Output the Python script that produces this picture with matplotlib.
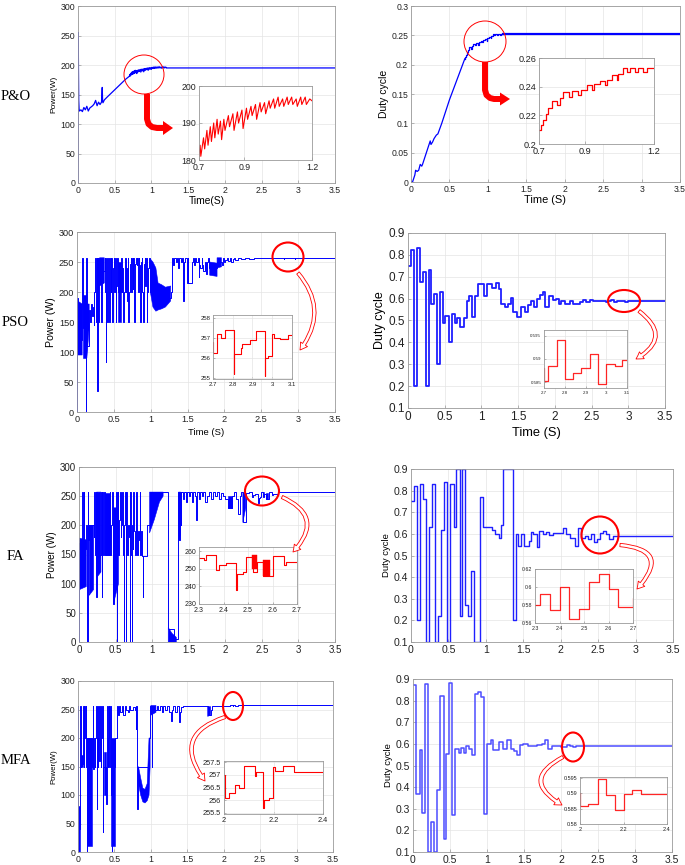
import numpy as np
import matplotlib
matplotlib.use("Agg")
import matplotlib.pyplot as plt
from matplotlib.patches import Ellipse, FancyArrowPatch, Polygon
from matplotlib.ticker import FormatStrFormatter

nan = float('nan')

# ---------------- P&O ----------------
po_pw = [(0.0, 0), (0.003, 255), (0.006, 200), (0.010, 140), (0.015, 125), (0.020, 122),
         (0.040, 124), (0.060, 121), (0.080, 128), (0.100, 124), (0.120, 130), (0.140, 122),
         (0.160, 127), (0.180, 129), (0.200, 131), (0.220, 134), (0.240, 140), (0.260, 131),
         (0.280, 137), (0.300, 133), (0.320, 137), (0.330, 162), (0.335, 140), (0.340, 136),
         (0.360, 141), (0.400, 146), (0.450, 152), (0.500, 158), (0.550, 164), (0.600, 170),
         (0.650, 176), (0.690, 180)]
po_zoom = [(0.700, 181), (0.705, 184), (0.708, 181), (0.720, 186), (0.725, 183), (0.735, 188),
           (0.740, 184), (0.750, 189), (0.755, 185), (0.765, 190), (0.770, 186), (0.780, 191),
           (0.785, 187), (0.795, 190.5), (0.800, 185.5), (0.810, 191), (0.815, 188), (0.830, 192),
           (0.835, 189), (0.850, 192.5), (0.855, 188), (0.870, 193), (0.875, 190), (0.890, 193.5),
           (0.895, 188.5), (0.910, 194), (0.915, 191), (0.930, 194.5), (0.935, 192), (0.950, 195),
           (0.955, 191), (0.970, 195.5), (0.975, 193), (0.990, 195.5), (0.995, 192.5), (1.010, 196),
           (1.015, 194), (1.030, 196.5), (1.035, 194), (1.050, 197), (1.055, 194.5), (1.070, 196.5),
           (1.075, 194.5), (1.090, 197), (1.095, 195), (1.110, 197), (1.115, 195), (1.130, 196.5),
           (1.135, 194.5), (1.150, 197), (1.155, 195), (1.170, 197), (1.175, 195), (1.190, 196.5),
           (1.200, 196)]
po_tail = [(1.200, 195), (3.500, 195)]

pod_ramp = [(0.0, 0.0), (0.02, 0.0), (0.05, 0.012), (0.06, 0.02), (0.08, 0.018), (0.10, 0.02),
            (0.12, 0.03), (0.14, 0.027), (0.15, 0.03), (0.20, 0.05), (0.25, 0.07), (0.26, 0.064),
            (0.28, 0.068), (0.30, 0.074), (0.33, 0.08), (0.35, 0.082), (0.40, 0.10), (0.50, 0.14),
            (0.60, 0.175), (0.70, 0.21)]
pod_zoom = [(0.700, 0.210), (0.709, 0.213), (0.719, 0.217), (0.729, 0.221), (0.741, 0.225),
            (0.755, 0.230), (0.777, 0.227), (0.791, 0.232), (0.803, 0.236), (0.832, 0.233),
            (0.842, 0.237), (0.871, 0.234), (0.883, 0.238), (0.907, 0.241), (0.929, 0.238),
            (0.939, 0.242), (0.965, 0.244), (0.987, 0.241), (0.994, 0.245), (1.016, 0.248),
            (1.038, 0.245), (1.045, 0.249), (1.064, 0.253), (1.084, 0.250), (1.096, 0.253),
            (1.117, 0.250), (1.132, 0.253), (1.154, 0.250), (1.168, 0.253), (1.200, 0.253)]
pod_tail = [(1.200, 0.2515), (3.500, 0.2515)]

# ---------------- PSO ----------------
pso_pw = [(0.000, 0), (0.004, 190), (0.010, 120), (0.072, 257), (0.078, 200), (0.086, 140),
          (0.122, 0), (0.128, 257), (0.134, 110), (0.168, 170), (0.178, 150), (0.188, 180),
          (0.198, 160), (0.212, 175), (0.226, 145), (0.236, 200), (0.244, 257), (0.252, 200),
          (0.262, 150), (0.270, 257), (0.276, 35), (0.282, 257), (0.290, 150), (0.298, 257),
          (0.306, 230), (0.330, 150), (0.336, 235), (0.375, 257), (0.382, 200), (0.390, 83),
          (0.396, 257), (0.404, 150), (0.414, 200), (0.424, 257), (0.432, 230), (0.440, 150),
          (0.450, 257), (0.458, 200), (0.468, 257), (0.476, 150), (0.486, 240), (0.496, 257),
          (0.506, 200), (0.516, 257), (0.524, 150), (0.532, 210), (0.545, 257), (0.555, 200),
          (0.600, 257), (0.606, 200), (0.616, 240), (0.628, 150), (0.636, 200), (0.650, 257),
          (0.658, 200), (0.666, 240), (0.676, 185), (0.686, 257), (0.696, 150), (0.704, 200),
          (0.716, 247), (0.728, 257), (0.736, 200), (0.748, 257), (0.756, 205), (0.766, 257),
          (0.776, 150), (0.786, 247), (0.800, 257), (0.808, 245), (0.820, 257), (0.828, 200),
          (0.838, 257), (0.846, 245), (0.860, 150), (0.868, 250), (0.880, 257), (0.888, 200),
          (0.898, 150), (0.906, 247), (0.918, 257), (0.926, 210), (0.936, 257), (0.946, 150),
          (0.956, 200), (0.968, 240), (0.980, 257), (0.992, 200), (1.100, 190), (1.270, 200),
          (1.290, 257), (1.300, 245), (1.320, 257), (1.340, 250), (1.360, 257), (1.375, 240),
          (1.390, 257), (1.405, 250), (1.420, 257), (1.440, 185), (1.450, 250), (1.470, 257),
          (1.490, 215), (1.500, 257), (1.505, 215), (1.560, 250), (1.575, 257), (1.590, 245),
          (1.605, 257), (1.620, 250), (1.635, 257), (1.650, 225), (1.660, 245), (1.675, 240),
          (1.690, 257), (1.700, 245), (1.715, 235), (1.730, 250), (1.745, 230), (1.760, 250),
          (1.775, 257), (1.790, 240), (1.900, 250), (1.965, 245), (1.980, 257), (1.995, 250),
          (2.010, 254), (2.030, 257), (2.050, 252), (2.070, 257), (2.090, 250), (2.110, 255),
          (2.130, 257), (2.150, 254), (2.190, 256), (2.230, 255), (2.280, 256.5), (2.340, 255.5),
          (2.400, 256.5), (2.460, 256), (2.520, 257), (2.580, 256.5), (2.640, 256.8), (2.700, 256.25),
          (2.720, 257.2), (2.740, 257.0), (2.762, 257.4), (2.806, 255.2), (2.808, 256.2),
          (2.843, 256.5), (2.846, 256.7), (2.886, 256.9), (2.920, 257.35), (2.962, 255.1),
          (2.964, 256.0), (2.980, 256.1), (3.000, 257.2), (3.010, 257.0), (3.040, 256.95),
          (3.080, 257.15), (3.500, 257.15)]
pso_band = [(0.010, 95, 185), (0.070, 95, 180), (nan, nan, nan),
            (0.086, 90, 195), (0.120, 90, 195), (nan, nan, nan),
            (0.134, 90, 180), (0.165, 140, 180), (nan, nan, nan),
            (0.306, 210, 257), (0.370, 215, 257), (nan, nan, nan),
            (0.558, 150, 250), (0.600, 150, 250), (nan, nan, nan),
            (0.995, 200, 255), (1.030, 175, 250), (1.070, 168, 240), (1.100, 170, 215),
            (1.150, 172, 212), (1.200, 175, 208), (1.270, 185, 210), (nan, nan, nan),
            (1.800, 228, 250), (1.900, 226, 248), (nan, nan, nan),
            (1.900, 240, 257), (1.960, 242, 257)]

psod = [(0.000, 0.75), (0.036, 0.82), (0.077, 0.2), (0.120, 0.83), (0.170, 0.675), (0.200, 0.72),
        (0.240, 0.2), (0.280, 0.73), (0.310, 0.575), (0.355, 0.62), (0.395, 0.3), (0.430, 0.63),
        (0.480, 0.49), (0.510, 0.52), (0.555, 0.4), (0.600, 0.53), (0.640, 0.49), (0.670, 0.51),
        (0.710, 0.47), (0.760, 0.51), (0.800, 0.59), (0.835, 0.61), (0.870, 0.515), (0.910, 0.61),
        (0.955, 0.665), (1.040, 0.61), (1.080, 0.665), (1.140, 0.65), (1.200, 0.67), (1.240, 0.645),
        (1.270, 0.575), (1.320, 0.56), (1.360, 0.575), (1.400, 0.605), (1.430, 0.54), (1.480, 0.515),
        (1.545, 0.56), (1.590, 0.54), (1.640, 0.57), (1.680, 0.59), (1.710, 0.56), (1.760, 0.6),
        (1.800, 0.615), (1.840, 0.63), (1.870, 0.56), (1.920, 0.61), (1.980, 0.595), (2.010, 0.6),
        (2.050, 0.575), (2.090, 0.59), (2.140, 0.575), (2.200, 0.59), (2.250, 0.575), (2.340, 0.585),
        (2.390, 0.595), (2.430, 0.585), (2.480, 0.595), (2.520, 0.59), (2.600, 0.588),
        (2.700, 0.5854), (2.720, 0.5884), (2.764, 0.594), (2.800, 0.5857), (2.840, 0.587),
        (2.876, 0.5881), (2.920, 0.591), (2.958, 0.5846), (2.998, 0.589), (3.040, 0.5884),
        (3.078, 0.5897), (3.500, 0.5897)]

# ---------------- FA ----------------
fa_pw = [(0.000, 0), (0.006, 170), (0.045, 257), (0.050, 150), (0.070, 257), (0.075, 160),
         (0.100, 200), (0.110, 0), (0.118, 257), (0.124, 175), (0.135, 200), (0.200, 180),
         (0.210, 257), (0.218, 150), (0.228, 257), (0.236, 78), (0.242, 257), (0.250, 150),
         (0.300, 257), (0.310, 78), (0.316, 257), (0.324, 150), (0.336, 200), (0.346, 257),
         (0.356, 150), (0.420, 257), (0.430, 150), (0.440, 200), (0.450, 257), (0.460, 65),
         (0.475, 150), (0.490, 230), (0.500, 150), (0.510, 257), (0.515, 0), (0.520, 180),
         (0.530, 257), (0.540, 150), (0.550, 210), (0.560, 257), (0.568, 180), (0.578, 200),
         (0.590, 257), (0.600, 150), (0.612, 20), (0.617, 0), (0.622, 200), (0.630, 257),
         (0.638, 200), (0.643, 0), (0.648, 257), (0.660, 150), (0.675, 200), (0.685, 180),
         (0.692, 257), (0.697, 0), (0.702, 257), (0.710, 150), (0.718, 0), (0.723, 200),
         (0.735, 160), (0.745, 257), (0.755, 190), (0.765, 150), (0.775, 200), (0.785, 257),
         (0.795, 150), (0.805, 190), (0.815, 175), (0.830, 257), (0.840, 150), (0.850, 190),
         (0.860, 148), (0.875, 77), (0.880, 148), (0.935, 200), (0.965, 257), (1.215, 22),
         (1.300, 5), (1.360, 257), (1.370, 175), (1.380, 257), (1.390, 200), (1.400, 257),
         (1.420, 245), (1.440, 257), (1.460, 240), (1.480, 257), (1.500, 250), (1.520, 257),
         (1.540, 240), (1.560, 257), (1.580, 250), (1.600, 210), (1.620, 257), (1.640, 245),
         (1.660, 257), (1.680, 250), (1.700, 257), (1.720, 240), (1.750, 250), (1.780, 257),
         (1.800, 245), (1.830, 257), (1.860, 250), (1.880, 257), (1.910, 245), (1.940, 255),
         (1.970, 250), (2.000, 245), (2.040, 230), (2.090, 250), (2.120, 257), (2.150, 245),
         (2.180, 220), (2.200, 250), (2.220, 257), (2.240, 205), (2.280, 256), (2.320, 255),
         (2.330, 257.5), (2.370, 249), (2.380, 252), (2.410, 253.5), (2.450, 238),
         (2.455, 247), (2.480, 248), (2.490, 256.5), (2.520, 248), (2.535, 254),
         (2.560, 246), (2.600, 257), (2.645, 252), (2.655, 254), (2.700, 254),
         (2.720, 257), (3.500, 257)]
fa_band = [(0.010, 90, 178), (0.100, 95, 175), (nan, nan, nan),
           (0.140, 80, 200), (0.200, 90, 200), (nan, nan, nan),
           (0.240, 110, 257), (0.300, 120, 257), (nan, nan, nan),
           (0.360, 150, 255), (0.420, 150, 255), (nan, nan, nan),
           (0.470, 65, 230), (0.540, 100, 230), (nan, nan, nan),
           (0.965, 187, 257), (1.030, 210, 257), (1.100, 240, 257), (1.150, 250, 257), (nan, nan, nan),
           (1.220, 0, 25), (1.270, 0, 15), (1.330, 0, 8), (nan, nan, nan),
           (1.360, 175, 257), (1.390, 185, 257), (nan, nan, nan),
           (2.040, 230, 250), (2.090, 230, 250), (nan, nan, nan),
           (2.240, 205, 255), (2.280, 230, 255), (nan, nan, nan),
           (2.515, 250, 258), (2.535, 250, 258), (nan, nan, nan),
           (2.560, 246, 255), (2.590, 246, 255)]

fad = [(0.000, 0.75), (0.036, 0.82), (0.080, 0.2), (0.124, 0.83), (0.160, 0.76), (0.200, 0.1),
       (0.235, 0.63), (0.280, 0.83), (0.324, 0.1), (0.356, 0.22), (0.400, 0.62), (0.444, 0.84),
       (0.480, 0.1), (0.524, 0.83), (0.570, 0.63), (0.600, 0.9), (0.650, 0.22), (0.680, 0.9),
       (0.716, 0.27), (0.760, 0.22), (0.800, 0.43), (0.836, 0.1), (0.916, 0.77), (0.960, 0.63),
       (1.080, 0.62), (1.120, 0.6), (1.170, 0.58), (1.200, 0.64), (1.235, 0.9), (1.360, 0.2),
       (1.400, 0.6), (1.435, 0.545), (1.470, 0.6), (1.510, 0.545), (1.570, 0.565), (1.600, 0.61),
       (1.636, 0.6), (1.680, 0.54), (1.715, 0.615), (1.770, 0.6), (1.810, 0.61), (1.850, 0.595),
       (1.900, 0.605), (2.035, 0.625), (2.070, 0.6), (2.120, 0.58), (2.190, 0.545), (2.235, 0.625),
       (2.270, 0.58), (2.320, 0.592), (2.360, 0.575), (2.400, 0.6), (2.440, 0.564), (2.480, 0.576),
       (2.520, 0.606), (2.560, 0.615), (2.600, 0.598), (2.640, 0.578), (2.700, 0.588),
       (3.500, 0.588)]

# ---------------- MFA ----------------
mfa_pw = [(0.000, 0), (0.003, 257), (0.006, 40), (0.030, 257), (0.036, 150), (0.040, 257),
          (0.046, 155), (0.070, 257), (0.076, 150), (0.082, 257), (0.090, 200), (0.105, 257),
          (0.115, 150), (0.120, 0), (0.125, 200), (0.190, 150), (0.200, 257), (0.205, 145),
          (0.215, 200), (0.230, 150), (0.240, 200), (0.250, 257), (0.255, 75), (0.260, 200),
          (0.270, 150), (0.280, 257), (0.285, 175), (0.295, 160), (0.305, 257), (0.310, 150),
          (0.320, 200), (0.330, 257), (0.340, 35), (0.345, 150), (0.390, 85), (0.395, 257),
          (0.405, 150), (0.410, 200), (0.420, 257), (0.430, 150), (0.440, 257), (0.450, 100),
          (0.460, 0), (0.465, 150), (0.510, 200), (0.540, 257), (0.545, 240), (0.560, 257),
          (0.580, 245), (0.600, 257), (0.620, 240), (0.640, 257), (0.660, 250), (0.680, 245),
          (0.700, 257), (0.720, 250), (0.750, 255), (0.780, 250), (0.790, 215), (0.800, 257),
          (0.810, 150), (0.815, 75), (0.820, 150), (0.970, 200), (0.990, 257), (1.010, 150),
          (1.015, 250), (1.080, 257), (1.100, 250), (1.120, 257), (1.150, 245), (1.170, 257),
          (1.200, 250), (1.220, 257), (1.250, 245), (1.270, 230), (1.290, 250), (1.310, 257),
          (1.330, 245), (1.360, 257), (1.380, 228), (1.400, 245), (1.420, 255), (1.440, 257),
          (1.780, 240), (1.820, 250), (1.840, 257), (2.000, 257), (2.003, 256.1), (2.020, 256.3),
          (2.043, 256.6), (2.060, 256.5), (2.080, 257.35), (2.124, 256.95), (2.130, 257.1),
          (2.158, 255.7), (2.162, 256.0), (2.180, 256.1), (2.198, 257.3), (2.205, 257.15),
          (2.238, 257.35), (2.283, 257.1), (3.500, 257.1)]
mfa_band = [(0.005, 0, 80), (0.030, 0, 80), (nan, nan, nan),
            (0.045, 150, 170), (0.070, 150, 170), (nan, nan, nan),
            (0.130, 10, 200), (0.190, 10, 200), (nan, nan, nan),
            (0.350, 100, 175), (0.390, 100, 175), (nan, nan, nan),
            (0.455, 10, 200), (0.510, 10, 200), (nan, nan, nan),
            (0.830, 120, 150), (0.860, 100, 130), (0.890, 88, 112), (0.920, 86, 110),
            (0.950, 90, 120), (0.975, 100, 200), (0.990, 150, 200), (nan, nan, nan),
            (1.000, 240, 257), (1.070, 245, 257), (nan, nan, nan),
            (1.780, 238, 255), (1.820, 240, 255)]

mfd = [(0.000, 0.87), (0.045, 0.37), (0.090, 0.57), (0.126, 0.28), (0.167, 0.875), (0.200, 0.1),
       (0.240, 0.24), (0.280, 0.1), (0.325, 0.385), (0.370, 0.82), (0.415, 0.16), (0.450, 0.555),
       (0.490, 0.88), (0.530, 0.27), (0.574, 0.575), (0.620, 0.56), (0.646, 0.58), (0.686, 0.56),
       (0.720, 0.59), (0.760, 0.575), (0.800, 0.55), (0.835, 0.83), (0.880, 0.84), (0.925, 0.815),
       (0.960, 0.275), (1.000, 0.6), (1.050, 0.62), (1.085, 0.57), (1.165, 0.61), (1.210, 0.575),
       (1.270, 0.62), (1.320, 0.575), (1.365, 0.565), (1.410, 0.55), (1.445, 0.595), (1.490, 0.6),
       (1.560, 0.59), (1.670, 0.595), (1.740, 0.6), (1.785, 0.62), (1.830, 0.575), (1.874, 0.59),
       (2.000, 0.5857), (2.038, 0.5865), (2.081, 0.5947), (2.119, 0.5894), (2.160, 0.5846),
       (2.200, 0.5897), (2.240, 0.591), (2.280, 0.5897), (3.500, 0.5897)]

x_ticks = [0, 0.5, 1, 1.5, 2, 2.5, 3, 3.5]
pw_ticks = [0, 50, 100, 150, 200, 250, 300]
duty_ticks = [0.1, 0.2, 0.3, 0.4, 0.5, 0.6, 0.7, 0.8, 0.9]

# ---------------- drawing ----------------
BLUE = '#0000ff'
RED = '#ff0000'
W, H = 685, 865
plt.rcParams['font.family'] = ['Liberation Sans', 'DejaVu Sans']
fig = plt.figure(figsize=(W / 100, H / 100), dpi=100)


def box(x0, y0, x1, y1):
    return fig.add_axes([x0 / W, 1 - y1 / H, (x1 - x0) / W, (y1 - y0) / H])


def style(ax, fs, xt, yt, xl, yl):
    ax.set_xlim(*xl)
    ax.set_ylim(*yl)
    ax.set_xticks(xt)
    ax.set_yticks(yt)
    ax.xaxis.set_major_formatter(FormatStrFormatter('%g'))
    ax.yaxis.set_major_formatter(FormatStrFormatter('%g'))
    for s in ax.spines.values():
        s.set_color('#9a9a9a')
        s.set_linewidth(0.6)
    ax.tick_params(direction='in', length=2.5, width=0.5, color='#9a9a9a',
                   labelsize=fs, labelcolor='#222222', pad=2)
    ax.grid(True, color='#e4e4e4', lw=0.5)
    ax.set_axisbelow(True)


def split(rows):
    a = np.array(rows, dtype=float)
    return [a[:, i] for i in range(a.shape[1])]


# P&O power
ax = box(78, 6, 335, 183)
style(ax, 6.3, x_ticks, pw_ticks, (0, 3.5), (0, 300))
t, v = split(po_pw + po_zoom + po_tail)
ax.plot(t, v, color=BLUE, lw=0.9)
ax.set_ylabel('Power(W)', fontsize=6, labelpad=2)
ax.set_xlabel('Time(S)', fontsize=7.4, labelpad=1)
axi = box(199, 86, 312, 160)
style(axi, 6.3, [0.7, 0.9, 1.2], [180, 190, 200], (0.7, 1.2), (180, 200))
t, v = split(po_zoom)
axi.plot(t, v, color=RED, lw=0.8)

# P&O duty
ax = box(411, 6, 680, 182)
style(ax, 6.2, x_ticks, [0, 0.05, 0.1, 0.15, 0.2, 0.25, 0.3], (0, 3.5), (0, 0.3))
t, v = split(pod_ramp)
ax.plot(t, v, color=BLUE, lw=0.9)
t, v = split(pod_zoom)
ax.step(t, v, where='post', color=BLUE, lw=0.9)
t, v = split(pod_tail)
ax.plot(t, v, color=BLUE, lw=1.6)
ax.set_ylabel('Duty cycle', fontsize=7.5, labelpad=2)
ax.set_xlabel('Time (S)', fontsize=7.9, labelpad=1)
axi = box(539, 58, 654, 144)
style(axi, 6.6, [0.7, 0.9, 1.2], [0.2, 0.22, 0.24, 0.26], (0.7, 1.2), (0.2, 0.26))
t, v = split(pod_zoom)
axi.step(t, v, where='post', color=RED, lw=0.9)


def power_panel(rect, inrect, pw, band, fs, ylab, yfs, inx, iny, inxl, inyl, infs, xlab=None, xfs=7):
    ax = box(*rect)
    style(ax, fs, x_ticks, pw_ticks, (0, 3.5), (0, 300))
    t, v = split(pw)
    ax.step(t, v, where='post', color=BLUE, lw=0.7)
    bt, blo, bhi = split(band)
    ax.fill_between(bt, blo, bhi, color=BLUE, lw=0.4, edgecolor=BLUE)
    ax.set_ylabel(ylab, fontsize=yfs, labelpad=2)
    if xlab:
        ax.set_xlabel(xlab, fontsize=xfs, labelpad=3)
    axi = box(*inrect)
    style(axi, infs, inx, iny, inxl, inyl)
    axi.tick_params(length=1.5)
    axi.step(t, v, where='post', color=RED, lw=0.8)
    axi.fill_between(bt, blo, bhi, color=RED, lw=0.3, edgecolor=RED)
    return ax


def duty_panel(rect, inrect, dd, fs, yfs, inx, iny, inxl, inyl, infs, lw, col, xlab=None, xfs=7):
    ax = box(*rect)
    style(ax, fs, x_ticks, duty_ticks, (0, 3.5), (0.1, 0.9))
    t, v = split(dd)
    ax.step(t, v, where='post', color=col, lw=lw)
    ax.set_ylabel('Duty cycle', fontsize=yfs, labelpad=2)
    if xlab:
        ax.set_xlabel(xlab, fontsize=xfs, labelpad=3)
    axi = box(*inrect)
    style(axi, infs, inx, iny, inxl, inyl)
    axi.tick_params(length=1.5)
    axi.step(t, v, where='post', color=RED, lw=0.9, alpha=0.85)
    return ax


# PSO
power_panel((77, 232, 335, 412), (213, 315, 292, 379), pso_pw, pso_band, 6.6, 'Power (W)', 7.6,
            [2.7, 2.8, 2.9, 3.0, 3.1], [255, 256, 257, 258], (2.7, 3.1), (254.93, 258.13), 4.3,
            xlab='Time (S)', xfs=6.8)
duty_panel((408, 233, 665, 408), (544, 330, 627, 388), psod, 8.5, 9.0,
           [2.7, 2.8, 2.9, 3.0, 3.1], [0.585, 0.59, 0.595], (2.7, 3.1), (0.5838, 0.5962), 3.2,
           1.3, '#1f1fff', xlab='Time (S)', xfs=9.3)

# FA
power_panel((79, 467, 335, 642), (199, 547, 297, 604), fa_pw, fa_band, 7.0, 'Power (W)', 7.1,
            [2.3, 2.4, 2.5, 2.6, 2.7], [230, 240, 250, 260], (2.3, 2.7), (230, 262.3), 5.0)
duty_panel((411, 469, 673, 642), (535, 569, 633, 623), fad, 7.6, 6.8,
           [2.3, 2.4, 2.5, 2.6, 2.7], [0.56, 0.58, 0.6, 0.62], (2.3, 2.7), (0.56, 0.62), 3.8,
           1.0, '#1f1fff')

# MFA
power_panel((78, 681, 333, 852), (224, 761, 323, 814), mfa_pw, mfa_band, 6.3, 'Power(W)', 5.6,
            [2.0, 2.2, 2.4], [255.5, 256, 256.5, 257, 257.5], (2.0, 2.4), (255.45, 257.55), 5.3)
duty_panel((413, 679, 672, 852), (580, 777, 667, 824), mfd, 7.5, 6.8,
           [2.0, 2.2, 2.4], [0.58, 0.585, 0.59, 0.595], (2.0, 2.4), (0.58, 0.5953), 4.0,
           1.1, '#4d4dff')

# ---------------- annotations overlay ----------------
ov = fig.add_axes([0, 0, 1, 1], zorder=20)
ov.set_xlim(0, W)
ov.set_ylim(H, 0)
ov.axis('off')
ov.patch.set_visible(False)

for txt, x, y in [('P&O', 16, 97), ('PSO', 15, 322), ('FA', 15, 557), ('MFA', 16, 760)]:
    ov.text(x, y, txt, fontfamily=['Liberation Serif', 'DejaVu Serif'], fontsize=10.5,
            ha='center', va='center', color='black')

# thin circles + solid bent arrows (P&O)
ov.add_patch(Ellipse((144, 74.5), 40, 39, fill=False, ec=RED, lw=0.7))
ov.add_patch(Ellipse((485, 41.5), 42, 41, fill=False, ec=RED, lw=0.7))
ov.plot([147, 147, 148.5, 152, 157, 164], [94, 119, 124, 127, 128, 128], color=RED, lw=4.3,
        solid_joinstyle='round', solid_capstyle='butt')
ov.add_patch(Polygon([(163, 121), (173, 128), (163, 135)], closed=True, fc=RED, ec='none'))
ov.plot([485, 485, 486.5, 490, 494, 501], [62, 90, 95, 98, 99, 99], color=RED, lw=4.3,
        solid_joinstyle='round', solid_capstyle='butt')
ov.add_patch(Polygon([(500, 92.5), (510, 99), (500, 105.5)], closed=True, fc=RED, ec='none'))

# thick ellipses + hollow curved arrows
for (cx, cy, w, h) in [(288, 257, 31, 29), (624, 301, 32, 22), (262, 491, 34, 29),
                       (600, 535, 37, 37), (233, 706, 20, 28), (573, 747, 22, 29)]:
    ov.add_patch(Ellipse((cx, cy), w, h, fill=False, ec=RED, lw=1.5))

for (a, b, r) in [((298, 273), (300, 350), -0.4), ((639, 311), (636, 359), -0.75),
                  ((282, 497), (293, 552), -0.7), ((620, 545), (637, 589), -1.0),
                  ((225, 717), (205, 781), 0.7), ((563, 757), (562, 805), 0.9)]:
    ov.add_patch(FancyArrowPatch(a, b, connectionstyle=f'arc3,rad={r}',
                                 arrowstyle='simple,head_length=5,head_width=6,tail_width=2.4',
                                 fc='white', ec=RED, lw=0.6, shrinkA=0, shrinkB=0))

fig.savefig('out.png', dpi=100)
